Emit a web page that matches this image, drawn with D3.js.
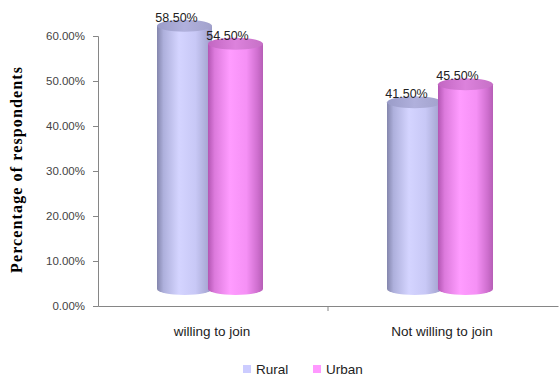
<!DOCTYPE html>
<html><head><meta charset="utf-8">
<script src="https://cdn.jsdelivr.net/npm/d3@7/dist/d3.min.js"></script>
<style>body{margin:0;background:#fff;}svg{display:block;}</style>
</head><body>
<svg id="c" width="559" height="378"></svg>
<script>
const categories = ["willing to join", "Not willing to join"];
const seriesNames = ["Rural", "Urban"];
const rural = [0.585, 0.415];
const urban = [0.545, 0.455];
const yTicks = [0, 0.1, 0.2, 0.3, 0.4, 0.5, 0.6];

const svg = d3.select("#c");
const x = d3.scaleBand().domain(categories).range([98, 558]);
const y = d3.scaleLinear().domain([0, 0.6]).range([306, 36]);
const fmt = d3.format(".2%");

const defs = svg.append("defs");
function grad(id, stops) {
  const g = defs.append("linearGradient").attr("id", id).attr("x1", 0).attr("x2", 1).attr("y1", 0).attr("y2", 0);
  stops.forEach(s => g.append("stop").attr("offset", s[0]).attr("stop-color", s[1]));
}
grad("gR", [[0, "#8486ad"], [0.12, "#aeb0dc"], [0.4, "#d4d4ff"], [0.7, "#c8c8f6"], [0.9, "#acacd8"], [1, "#9a9ac6"]]);
grad("gU", [[0, "#b356b3"], [0.12, "#dc7adc"], [0.4, "#ff9cff"], [0.7, "#f590f5"], [0.9, "#cf6fcf"], [1, "#b65eb6"]]);
grad("gRt", [[0, "#9a9cc8"], [0.5, "#b0b0dc"], [1, "#a2a2cc"]]);
grad("gUt", [[0, "#c266c2"], [0.5, "#dc82dc"], [1, "#c670c6"]]);

// axes
const yAxis = d3.axisLeft(y).tickValues(yTicks).tickFormat(fmt).tickSize(5).tickPadding(8);
const gy = svg.append("g").attr("transform", "translate(98,0)").call(yAxis);
gy.select(".domain").attr("stroke", "#868686");
gy.selectAll(".tick line").attr("stroke", "#868686");
gy.selectAll(".tick text").attr("fill", "#444").style("font-family", "Liberation Sans, Arial, sans-serif").style("font-size", "11.5px");

const xAxis = d3.axisBottom(x).tickSize(0).tickFormat("");
const gx = svg.append("g").attr("transform", "translate(0,306)").call(xAxis);
gx.select(".domain").attr("stroke", "#868686");
gx.selectAll(".tick").remove();
svg.append("line").attr("x1", x(categories[1])).attr("x2", x(categories[1]))
  .attr("y1", 306).attr("y2", 311).attr("stroke", "#868686");

gx.selectAll(".cat").data(categories).enter().append("text")
  .attr("x", d => x(d) + x.bandwidth() / 2 - 1).attr("y", 336 - 306)
  .attr("text-anchor", "middle").attr("fill", "#222")
  .style("font-family", "Liberation Sans, Arial, sans-serif").style("font-size", "13.5px")
  .text(d => d);

// cylinders
const depth = 17, rx = 27.5, ry = 6, half = 25.5, dx = -3;
const rows = [];
categories.forEach((c, i) => {
  rows.push({cat: c, s: 0, v: rural[i], cx: x(c) + x.bandwidth() / 2 + dx - half});
  rows.push({cat: c, s: 1, v: urban[i], cx: x(c) + x.bandwidth() / 2 + dx + half});
});
const bars = svg.append("g");
rows.forEach(r => {
  const yt = y(r.v) - depth, yb = y(0) - depth;
  const body = `M${r.cx - rx},${yt} L${r.cx - rx},${yb} A${rx},${ry} 0 0 0 ${r.cx + rx},${yb} L${r.cx + rx},${yt} Z`;
  const g = bars.append("g");
  g.append("path").attr("d", body).attr("fill", r.s === 0 ? "url(#gR)" : "url(#gU)");
  g.append("ellipse").attr("cx", r.cx).attr("cy", yt).attr("rx", rx).attr("ry", ry)
    .attr("fill", r.s === 0 ? "url(#gRt)" : "url(#gUt)");
});
// value labels
svg.append("g").selectAll("text").data(rows).enter().append("text")
  .attr("x", d => d.cx - 8).attr("y", d => y(d.v) - depth - 4)
  .attr("text-anchor", "middle").attr("fill", "#222")
  .style("font-family", "Liberation Sans, Arial, sans-serif").style("font-size", "12.5px")
  .text(d => fmt(d.v));

// y title
svg.append("text").attr("transform", "translate(22,170) rotate(-90)")
  .attr("text-anchor", "middle").attr("fill", "#000")
  .style("font-family", "Liberation Serif, Times New Roman, serif").style("font-weight", "bold").style("font-size", "16px")
  .attr("textLength", 206).attr("lengthAdjust", "spacing")
  .text("Percentage of respondents");

// legend
const colors = ["#ccccff", "#ff99ff"];
const leg = svg.append("g");
const lx = [243, 313];
seriesNames.forEach((n, i) => {
  leg.append("rect").attr("x", lx[i]).attr("y", 365).attr("width", 8).attr("height", 8).attr("fill", colors[i]);
  leg.append("text").attr("x", lx[i] + 13).attr("y", 374).attr("fill", "#222")
    .style("font-family", "Liberation Sans, Arial, sans-serif").style("font-size", "13.5px").text(n);
});
</script>
</body></html>
